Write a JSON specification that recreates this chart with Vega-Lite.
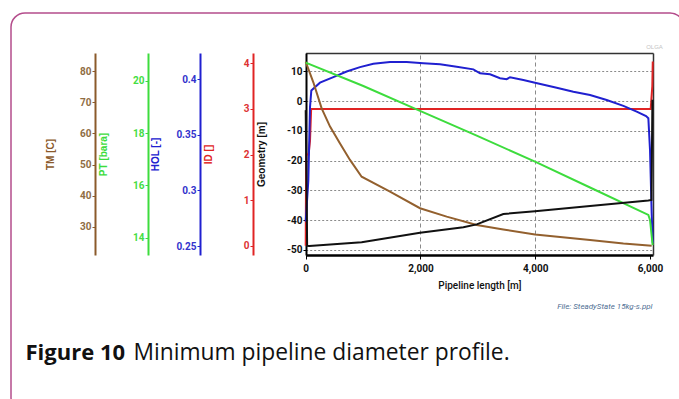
{
  "$schema": "https://vega.github.io/schema/vega-lite/v6.json",
  "width": 673,
  "height": 399,
  "autosize": {"type": "none"},
  "padding": {"left": 11, "top": 13, "right": 0, "bottom": 0},
  "background": "white",
  "config": {
    "view": {"stroke": "#b44d8c", "strokeWidth": 1.5, "cornerRadius": 14, "fill": "white"},
    "axis": {
      "labelFont": "Roboto",
      "labelFontWeight": "bold",
      "labelFontSize": 10,
      "titleFont": "Liberation Sans, Arial, sans-serif",
      "titleFontSize": 10,
      "titleFontWeight": "bold",
      "tickSize": 3,
      "labelPadding": 1,
      "domainWidth": 2,
      "labelFlush": false,
      "labelOverlap": false,
      "grid": false
    }
  },
  "datasets": {
    "geometry": [
      {"length": 0, "elevation": -3},
      {"length": 25, "elevation": -48.6},
      {"length": 63, "elevation": -48.65},
      {"length": 975, "elevation": -47.4},
      {"length": 1992, "elevation": -44.2},
      {"length": 2747, "elevation": -42.4},
      {"length": 2980, "elevation": -41.4},
      {"length": 3444, "elevation": -37.9},
      {"length": 3996, "elevation": -37.0},
      {"length": 4955, "elevation": -35.2},
      {"length": 5971, "elevation": -33.4},
      {"length": 6025, "elevation": -33.2},
      {"length": 6042, "elevation": 0.5}
    ],
    "id": [
      {"length": 0, "id": 0.0},
      {"length": 8, "id": 2.0},
      {"length": 50, "id": 2.0},
      {"length": 75, "id": 2.3},
      {"length": 95, "id": 3.0},
      {"length": 6012, "id": 3.0},
      {"length": 6040, "id": 3.5},
      {"length": 6048, "id": 4.04}
    ],
    "hol": [
      {"length": 0, "hol": 0.272},
      {"length": 46, "hol": 0.309},
      {"length": 75, "hol": 0.375},
      {"length": 98, "hol": 0.390},
      {"length": 249, "hol": 0.397},
      {"length": 482, "hol": 0.402},
      {"length": 714, "hol": 0.407},
      {"length": 946, "hol": 0.411},
      {"length": 1179, "hol": 0.414},
      {"length": 1469, "hol": 0.4156},
      {"length": 1760, "hol": 0.4156},
      {"length": 2050, "hol": 0.4144},
      {"length": 2341, "hol": 0.4135},
      {"length": 2631, "hol": 0.4114},
      {"length": 2921, "hol": 0.409},
      {"length": 3038, "hol": 0.4054},
      {"length": 3212, "hol": 0.4045},
      {"length": 3386, "hol": 0.401},
      {"length": 3502, "hol": 0.4001},
      {"length": 3561, "hol": 0.4019},
      {"length": 3793, "hol": 0.3994},
      {"length": 3996, "hol": 0.397},
      {"length": 4374, "hol": 0.3925},
      {"length": 4664, "hol": 0.3888},
      {"length": 4955, "hol": 0.3859},
      {"length": 5245, "hol": 0.3814},
      {"length": 5536, "hol": 0.3761},
      {"length": 5768, "hol": 0.3709},
      {"length": 5931, "hol": 0.367},
      {"length": 5971, "hol": 0.365},
      {"length": 6000, "hol": 0.3364},
      {"length": 6029, "hol": 0.2794},
      {"length": 6048, "hol": 0.2524}
    ],
    "pt": [
      {"length": 0, "pt": 20.69},
      {"length": 1004, "pt": 19.80},
      {"length": 1992, "pt": 18.85},
      {"length": 2980, "pt": 17.90},
      {"length": 3996, "pt": 16.91},
      {"length": 4955, "pt": 15.92},
      {"length": 5971, "pt": 14.87},
      {"length": 6000, "pt": 14.68},
      {"length": 6046, "pt": 13.72}
    ],
    "tm": [
      {"length": 0, "tm": 83.0},
      {"length": 133, "tm": 76.4},
      {"length": 278, "tm": 68.05},
      {"length": 424, "tm": 62.2},
      {"length": 598, "tm": 56.8},
      {"length": 772, "tm": 51.5},
      {"length": 975, "tm": 46.1},
      {"length": 1469, "tm": 41.3},
      {"length": 1992, "tm": 36.0},
      {"length": 2457, "tm": 33.3},
      {"length": 2980, "tm": 30.6},
      {"length": 3444, "tm": 29.2},
      {"length": 3996, "tm": 27.6},
      {"length": 4955, "tm": 25.8},
      {"length": 5536, "tm": 24.7},
      {"length": 6029, "tm": 24.0}
    ]
  },
  "layer": [
    {
      "data": {"name": "id"},
      "mark": {"type": "line", "color": "#e02424", "strokeWidth": 2},
      "encoding": {
        "x": {"field": "length", "type": "quantitative",
          "scale": {"domain": [0, 6052], "range": [294.7, 642], "nice": false, "zero": false},
          "axis": {"orient": "top", "offset": -40, "labels": false, "ticks": false, "domain": true, "domainColor": "#333333", "domainWidth": 1.5,
            "grid": true, "gridColor": "#8a8a8a", "gridDash": [4, 3], "gridWidth": 1, "values": [2000, 4000],
            "title": "OLGA", "titleFont": "Liberation Sans, Arial, sans-serif", "titleFontSize": 6, "titleFontWeight": "normal", "titleColor": "#c4c4c4",
            "titleX": 643, "titleY": -5, "titleAlign": "center", "titleBaseline": "alphabetic"}},
        "y": {"field": "id", "type": "quantitative",
          "scale": {"domain": [-0.204, 4.226], "range": [242, 40], "nice": false, "zero": false},
          "axis": {"orient": "left", "offset": -242, "values": [0, 1, 2, 3, 4], "title": "ID []",
            "domainColor": "#e02424", "tickColor": "#e02424", "labelColor": "#dd3333", "titleColor": "#e02424",
            "titleX": -45, "titleBaseline": "middle"}}
      }
    },
    {
      "data": {"name": "hol"},
      "mark": {"type": "line", "color": "#2020d0", "strokeWidth": 2},
      "encoding": {
        "x": {"field": "length", "type": "quantitative",
          "scale": {"domain": [0, 6052], "range": [294.7, 642], "nice": false, "zero": false},
          "axis": {"orient": "bottom", "offset": -157, "labels": false, "ticks": false, "domain": false, "grid": false,
            "title": "Figure 10", "titleFont": "Open Sans", "titleFontSize": 22, "titleFontWeight": "bold", "titleColor": "#111111",
            "titleX": 14, "titleY": 104, "titleAlign": "left", "titleBaseline": "alphabetic"}},
        "y": {"field": "hol", "type": "quantitative",
          "scale": {"domain": [0.2419, 0.4237], "range": [242, 40], "nice": false, "zero": false},
          "axis": {"orient": "left", "offset": -189, "values": [0.25, 0.3, 0.35, 0.4], "format": ".2~f", "title": "HOL [-]",
            "domainColor": "#2020d0", "tickColor": "#2020d0", "labelColor": "#3333cc", "titleColor": "#2020d0",
            "titleX": -45, "titleBaseline": "middle"}}
      }
    },
    {
      "data": {"name": "tm"},
      "mark": {"type": "line", "color": "#93602e", "strokeWidth": 2},
      "encoding": {
        "x": {"field": "length", "type": "quantitative",
          "scale": {"domain": [0, 6052], "range": [294.7, 642], "nice": false, "zero": false},
          "axis": {"orient": "bottom", "offset": -157, "labels": false, "ticks": false, "domain": false, "grid": false,
            "title": "File: SteadyState 15kg-s.ppl", "titleFont": "Roboto", "titleFontSize": 8,
            "titleFontWeight": "normal", "titleFontStyle": "italic", "titleColor": "#4f6f94",
            "titleX": 641, "titleY": 53, "titleAlign": "right", "titleBaseline": "alphabetic"}},
        "y": {"field": "tm", "type": "quantitative",
          "scale": {"domain": [21.0, 85.8], "range": [242, 40], "nice": false, "zero": false},
          "axis": {"orient": "left", "offset": -84, "values": [30, 40, 50, 60, 70, 80], "title": "TM [C]",
            "domainColor": "#8b5a2b", "tickColor": "#8b5a2b", "labelColor": "#8f6d44", "titleColor": "#8b5a2b",
            "titleX": -45, "titleBaseline": "middle"}}
      }
    },
    {
      "data": {"name": "pt"},
      "mark": {"type": "line", "color": "#3ddc3d", "strokeWidth": 2},
      "encoding": {
        "x": {"field": "length", "type": "quantitative",
          "scale": {"domain": [0, 6052], "range": [294.7, 642], "nice": false, "zero": false},
          "axis": {"orient": "bottom", "offset": -157, "labels": false, "ticks": false, "domain": false, "grid": false,
            "title": "Minimum pipeline diameter profile.", "titleFont": "Open Sans", "titleFontSize": 22.8, "titleFontWeight": "normal", "titleColor": "#111111",
            "titleX": 122, "titleY": 104, "titleAlign": "left", "titleBaseline": "alphabetic"}},
        "y": {"field": "pt", "type": "quantitative",
          "scale": {"domain": [13.34, 21.06], "range": [242, 40], "nice": false, "zero": false},
          "axis": {"orient": "left", "offset": -137, "values": [14, 16, 18, 20], "title": "PT [bara]",
            "domainColor": "#3ddc3d", "tickColor": "#3ddc3d", "labelColor": "#44dd44", "titleColor": "#3ddc3d",
            "titleX": -45, "titleBaseline": "middle"}}
      }
    },
    {
      "data": {"name": "geometry"},
      "mark": {"type": "line", "color": "#111111", "strokeWidth": 2},
      "encoding": {
        "x": {"field": "length", "type": "quantitative",
          "scale": {"domain": [0, 6052], "range": [294.7, 642], "nice": false, "zero": false},
          "axis": {"orient": "bottom", "offset": -157, "values": [0, 2000, 4000, 6000], "format": ",d", "grid": false,
            "domainColor": "#000000", "domainWidth": 2.5, "tickColor": "#000000", "tickSize": 4, "labelPadding": 4,
            "labelFontSize": 10, "labelColor": "#111111",
            "title": "Pipeline length [m]", "titleFont": "Roboto", "titleFontSize": 10,
            "titleFontWeight": 500, "titleColor": "#111111", "titleY": 33, "titleBaseline": "alphabetic"}},
        "y": {"field": "elevation", "type": "quantitative",
          "scale": {"domain": [-51.7, 16.2], "range": [242, 40], "nice": false, "zero": false},
          "axis": {"orient": "left", "offset": -295, "values": [-50, -40, -30, -20, -10, 0, 10], "title": "Geometry [m]",
            "labelExpr": "replace(datum.label, '\u2212', '-')",
            "grid": true, "gridColor": "#8a8a8a", "gridDash": [2, 2], "gridWidth": 1,
            "domainColor": "#000000", "tickColor": "#000000", "labelColor": "#111111", "titleColor": "#111111",
            "titleX": -45, "titleBaseline": "middle"}}
      }
    },
    {
      "data": {"values": []},
      "mark": {"type": "line"},
      "encoding": {
        "x": {"field": "length", "type": "quantitative",
          "scale": {"domain": [0, 6052], "range": [294.7, 642], "nice": false, "zero": false},
          "axis": null},
        "y": {"field": "elevation", "type": "quantitative",
          "scale": {"domain": [-51.7, 16.2], "range": [242, 40], "nice": false, "zero": false},
          "axis": {"orient": "right", "offset": -31, "labels": false, "ticks": false, "grid": false, "title": null,
            "domain": true, "domainColor": "#333333", "domainWidth": 1.5}}
      }
    }
  ],
  "resolve": {"scale": {"y": "independent"}, "axis": {"x": "independent", "y": "independent"}}
}
